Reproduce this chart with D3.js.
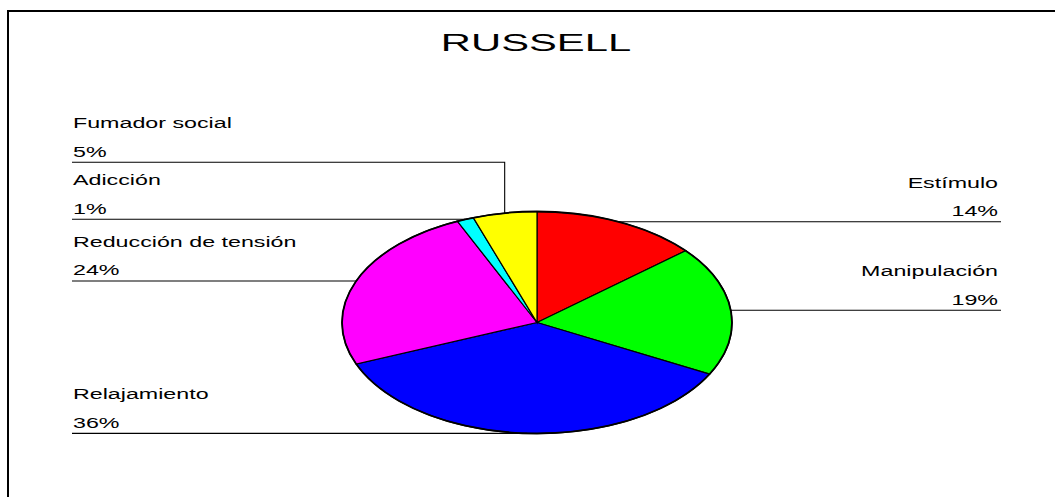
<!DOCTYPE html>
<html>
<head>
<meta charset="utf-8">
<script src="https://cdn.jsdelivr.net/npm/d3@7/dist/d3.min.js"></script>
<style>
  html, body { margin: 0; padding: 0; background: #fff; }
  svg { display: block; }
  text { font-family: "Liberation Sans", Arial, Helvetica, sans-serif; fill: #000; }
</style>
</head>
<body>
<script>
// ---- data ----
const title = "RUSSELL";
const categories = ["Estímulo", "Manipulación", "Relajamiento", "Reducción de tensión", "Adicción", "Fumador social"];
const values = [13.8, 18.9, 36.2, 24.4, 1.4, 5.3];
const colors = ["#FF0000", "#00FF00", "#0000FF", "#FF00FF", "#00FFFF", "#FFFF00"];

// ---- layout ----
const W = 1055, H = 497;
const cx = 537, cy = 322.5, rx = 195, ry = 111;
const labelScale = 1.55, labelFont = 15;
const leftTextX = 73, leftLineX = 72, rightTextX = 998, rightLineX = 1001;
const minGap = 57;

const svg = d3.select("body").append("svg").attr("width", W).attr("height", H);

svg.append("rect")
  .attr("x", 8).attr("y", 11).attr("width", W + 20).attr("height", H + 20)
  .attr("fill", "#fff").attr("stroke", "#000").attr("stroke-width", 2);

svg.append("text")
  .attr("transform", `translate(536,50.7) scale(1.74,1)`)
  .attr("text-anchor", "middle")
  .attr("font-size", 24)
  .text(title);

const data = categories.map((c, i) => ({ name: c, value: values[i], color: colors[i] }));
const total = d3.sum(values);
const pie = d3.pie().value(d => d.value).sort(null).startAngle(0).endAngle(2 * Math.PI);
const arcs = pie(data);
const arc = d3.arc().innerRadius(0).outerRadius(rx);

const g = svg.append("g").attr("transform", `translate(${cx},${cy}) scale(1,${ry / rx})`);
g.selectAll("path.slice").data(arcs).join("path")
  .attr("class", "slice")
  .attr("d", arc)
  .attr("fill", d => d.data.color)
  .attr("stroke", "#000")
  .attr("stroke-width", 1.2)
  .attr("vector-effect", "non-scaling-stroke");
g.append("ellipse").attr("cx", 0).attr("cy", 0).attr("rx", rx).attr("ry", rx)
  .attr("fill", "none").attr("stroke", "#000").attr("stroke-width", 1.8)
  .attr("vector-effect", "non-scaling-stroke");

// label anchors
const labels = arcs.map(a => {
  const m = (a.startAngle + a.endAngle) / 2;
  return {
    name: a.data.name,
    pct: Math.round(a.data.value / total * 100) + "%",
    ax: cx + rx * Math.sin(m),
    ay: cy - ry * Math.cos(m),
    side: m < Math.PI ? "right" : "left"
  };
});
["left", "right"].forEach(side => {
  const s = labels.filter(l => l.side === side).sort((a, b) => b.ay - a.ay);
  let prev = Infinity;
  s.forEach(l => { l.ly = Math.min(l.ay, prev - minGap); prev = l.ly; });
});

const lg = svg.append("g");
labels.forEach(l => {
  const left = l.side === "left";
  const tx = left ? leftTextX : rightTextX;
  const lx = left ? leftLineX : rightLineX;
  const anchor = left ? "start" : "end";
  const pts = [[lx, l.ly], [l.ax, l.ly]];
  if (Math.abs(l.ly - l.ay) > 1) pts.push([l.ax, l.ay]);
  lg.append("path").attr("d", d3.line()(pts))
    .attr("fill", "none").attr("stroke", "#000").attr("stroke-width", 1.1);
  lg.append("text")
    .attr("transform", `translate(${tx},${l.ly - 34}) scale(${labelScale},1)`)
    .attr("text-anchor", anchor).attr("font-size", labelFont).text(l.name);
  lg.append("text")
    .attr("transform", `translate(${tx},${l.ly - 5.5}) scale(${labelScale},1)`)
    .attr("text-anchor", anchor).attr("font-size", labelFont).text(l.pct);
});
</script>
</body>
</html>
